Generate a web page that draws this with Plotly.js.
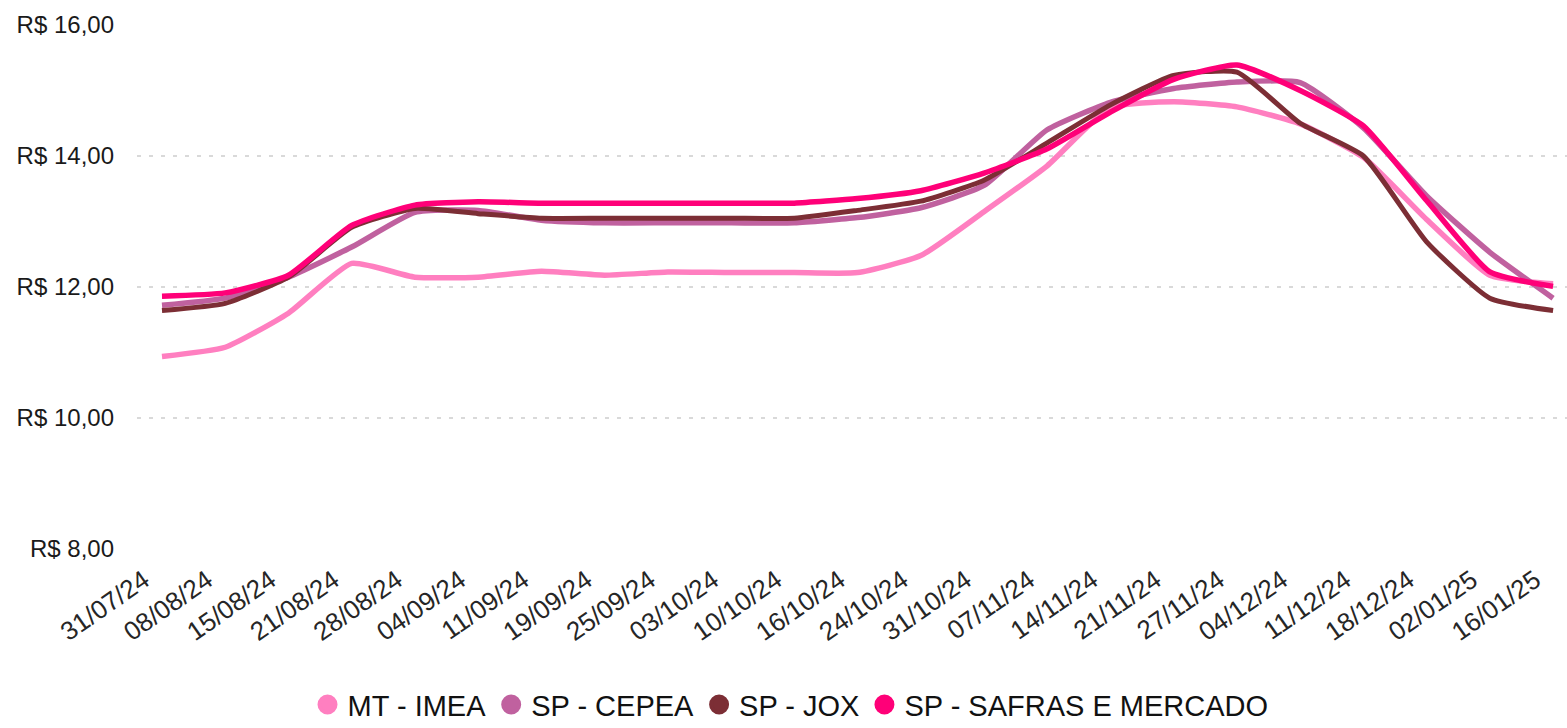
<!DOCTYPE html>
<html>
<head>
<meta charset="utf-8">
<script src="https://cdn.plot.ly/plotly-3.0.1.min.js"></script>
<style>
  html, body { margin: 0; padding: 0; background: #ffffff; }
  #chart { width: 1567px; height: 728px; }
</style>
</head>
<body>
<div id="chart"></div>
<script>
const categories = ["31/07/24","08/08/24","15/08/24","21/08/24","28/08/24","04/09/24","11/09/24","19/09/24","25/09/24","03/10/24","10/10/24","16/10/24","24/10/24","31/10/24","07/11/24","14/11/24","21/11/24","27/11/24","04/12/24","11/12/24","18/12/24","02/01/25","16/01/25"];

const mtImea = [10.94, 11.08, 11.60, 12.36, 12.15, 12.15, 12.24, 12.18, 12.23, 12.22, 12.22, 12.22, 12.48, 13.15, 13.85, 14.74, 14.83, 14.75, 14.49, 13.98, 13.03, 12.18, 12.05];
const spCepea = [11.72, 11.83, 12.15, 12.61, 13.14, 13.17, 13.02, 12.98, 12.98, 12.98, 12.98, 13.06, 13.21, 13.55, 14.40, 14.82, 15.03, 15.13, 15.12, 14.43, 13.39, 12.53, 11.83];
const spJox = [11.64, 11.75, 12.15, 12.91, 13.20, 13.12, 13.05, 13.05, 13.05, 13.05, 13.05, 13.17, 13.31, 13.63, 14.20, 14.78, 15.23, 15.28, 14.50, 14.00, 12.69, 11.83, 11.64];
const spSafras = [11.86, 11.91, 12.18, 12.94, 13.25, 13.30, 13.28, 13.28, 13.28, 13.28, 13.28, 13.35, 13.47, 13.74, 14.11, 14.67, 15.17, 15.39, 15.00, 14.46, 13.32, 12.23, 12.01];

const seriesNames = ["MT - IMEA", "SP - CEPEA", "SP - JOX", "SP - SAFRAS E MERCADO"];
const seriesColors = ["#FF7FC0", "#C0619F", "#7C2E35", "#FF0078"];
const seriesWidths = [5.5, 5.5, 5, 5.5];
const seriesData = [mtImea, spCepea, spJox, spSafras];

const yTicks = [8, 10, 12, 14, 16];
const yTickLabels = ["R$ 8,00", "R$ 10,00", "R$ 12,00", "R$ 14,00", "R$ 16,00"];

const FONT = "'Liberation Sans', Arial, sans-serif";

const traces = [];
seriesData.forEach((ys, i) => {
  traces.push({
    type: 'scatter', mode: 'lines',
    x: categories, y: ys,
    name: seriesNames[i],
    showlegend: false,
    line: { color: seriesColors[i], width: seriesWidths[i], shape: 'spline', smoothing: 0.5 },
    hoverinfo: 'x+y+name'
  });
});
seriesNames.forEach((n, i) => {
  traces.push({
    type: 'scatter', mode: 'markers',
    x: [null], y: [null],
    name: n,
    showlegend: true,
    marker: { color: seriesColors[i], size: 18, symbol: 'circle',
              line: { color: seriesColors[i], width: 4 } }
  });
});

const layout = {
  width: 1567, height: 728,
  margin: { l: 137, r: 0, t: 25, b: 179, autoexpand: false },
  paper_bgcolor: '#ffffff', plot_bgcolor: '#ffffff',
  font: { family: FONT, color: '#222222' },
  showlegend: true,
  legend: {
    orientation: 'h', x: 0.457, xref: 'paper', xanchor: 'center',
    y: -0.297, yanchor: 'middle',
    font: { family: FONT, size: 29, color: '#111111' },
    itemwidth: 30, tracegroupgap: 0,
    bgcolor: 'rgba(0,0,0,0)'
  },
  xaxis: {
    type: 'category',
    range: [-0.395, 22.22],
    showgrid: false, zeroline: false, showline: false,
    ticks: '', tickangle: -35,
    ticklabelstandoff: 10,
    ticklabelshift: -18,
    tickfont: { family: FONT, size: 26, color: '#262626' },
    automargin: false
  },
  yaxis: {
    range: [8, 16],
    tickvals: yTicks,
    ticktext: yTickLabels,
    showgrid: true, gridcolor: '#D9D9D9', gridwidth: 2, griddash: '4px,8px',
    zeroline: false, showline: false, ticks: '',
    ticklabelstandoff: 22,
    tickfont: { family: FONT, size: 24, color: '#1a1a1a' },
    automargin: false
  }
};

Plotly.newPlot('chart', traces, layout, { displayModeBar: false, staticPlot: true });
</script>
</body>
</html>
